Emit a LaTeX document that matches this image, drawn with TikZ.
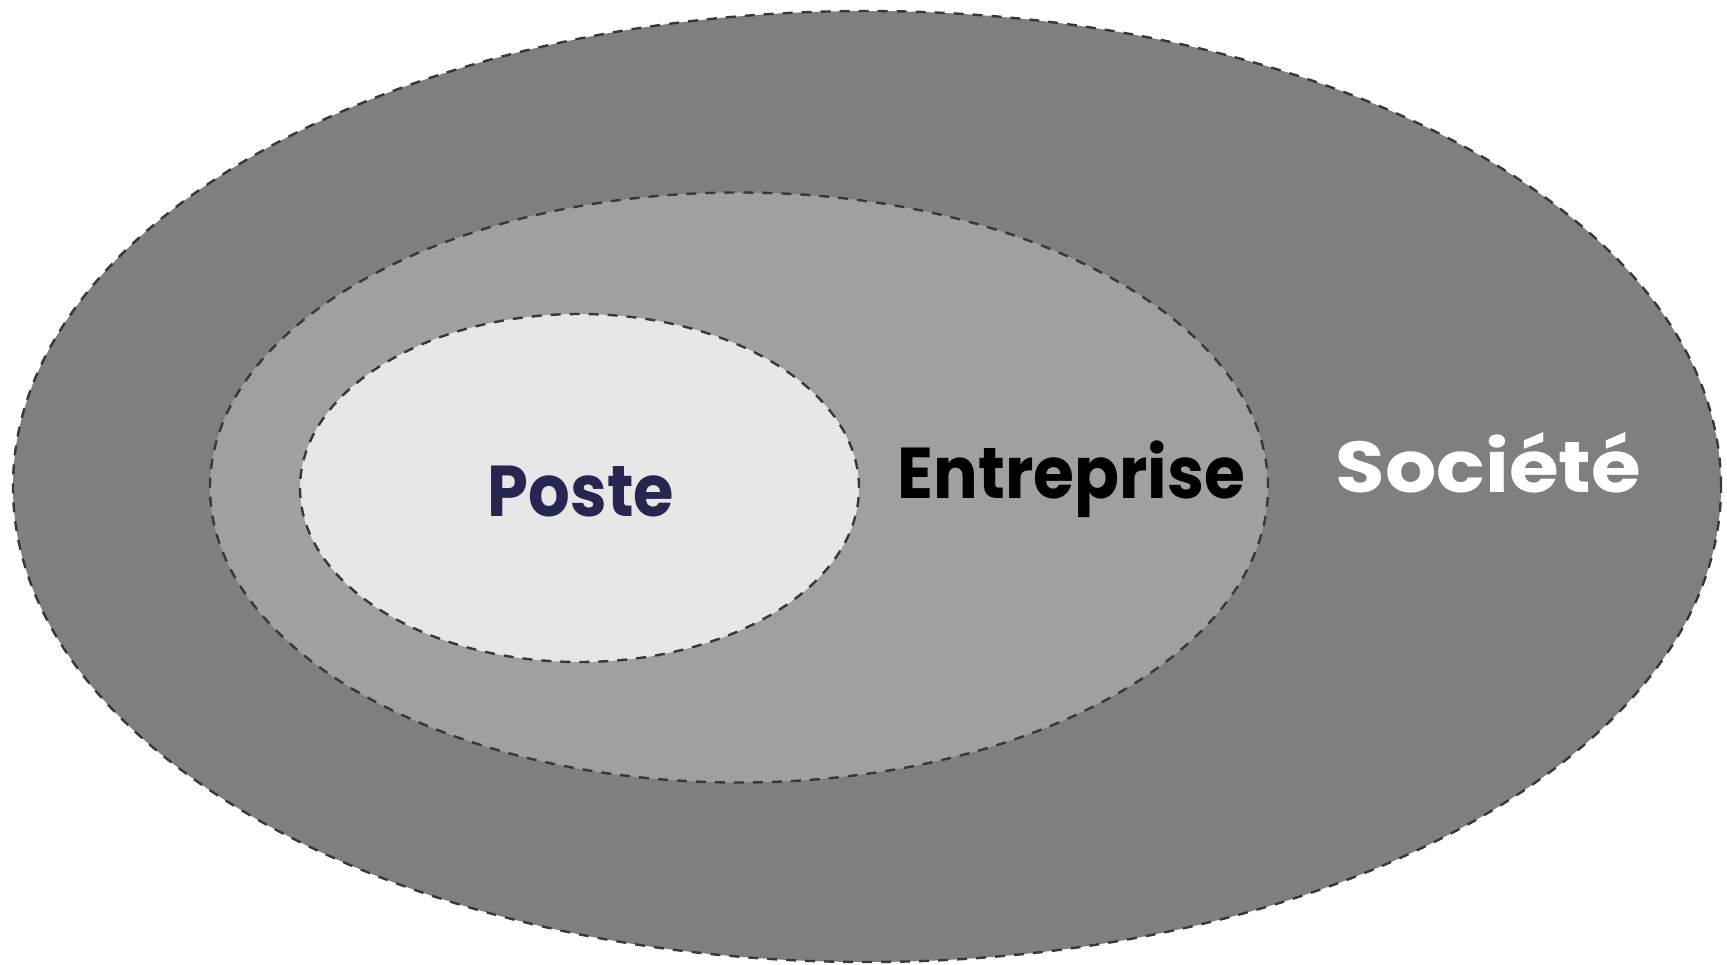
\documentclass[tikz,border=0pt]{standalone}
\usepackage{fontspec}
\usepackage{tikz}
\usetikzlibrary{positioning, shapes.geometric}
\newfontfamily\zonefont{Poppins}
\definecolor{societeGray}{HTML}{7F7F7F}
\definecolor{entrepriseGray}{HTML}{A0A0A0}
\definecolor{posteGray}{HTML}{E7E7E7}
\definecolor{edgeGray}{HTML}{383838}
\definecolor{posteBlue}{HTML}{262651}
\tikzset{
    zone/.style={
        draw = edgeGray,
        ellipse,
        inner sep = 0pt,
        line width = 2.4pt,
        dash pattern = on 10pt off 9pt
    },
    zonelabel/.style = {
        anchor = base,
        inner sep = 0pt,
        transform shape,
        font = \zonefont\bfseries\fontsize{72}{82}\selectfont
    }
}

\begin{document}
\begin{tikzpicture}[x=1pt, y=-1pt]

    \useasboundingbox (0,0) rectangle (1727,965);

    % Nested zones
    \node[zone, fill=societeGray,
        minimum width=1708pt, minimum height=951pt
    ] (societe) at (867,486.5) {};
    \node[zone, fill=entrepriseGray,
        minimum width=1058pt, minimum height=590pt
    ] (entreprise) at (739,487.5) {};
    \node[zone, fill=posteGray,
        minimum width=559pt, minimum height=348pt
    ] (poste) at (579.5,488) {};

    % Labels
    \node[zonelabel, xscale=0.91, text=posteBlue] (posteLabel) at (581,516) {Poste};
    \node[zonelabel, xscale=0.92, text=black] (entrepriseLabel) at (1071.5,498) {Entreprise};
    \node[zonelabel, xscale=1.12, text=white] (societeLabel) at (1488.5,492) {Société};

\end{tikzpicture}
\end{document}
